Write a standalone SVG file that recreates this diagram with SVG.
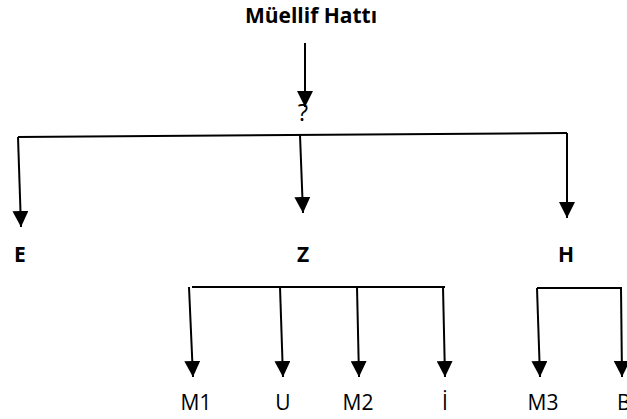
<svg xmlns="http://www.w3.org/2000/svg" width="627" height="419" viewBox="0 0 627 419">
<style>
.b{font-family:"Open Sans","Liberation Sans",sans-serif;font-weight:bold;font-size:21px;fill:#000;text-anchor:middle}
.r{font-family:"Open Sans","Liberation Sans",sans-serif;font-size:21px;fill:#000;text-anchor:middle}
.ln{stroke:#000;stroke-width:2;fill:none}
.ar{stroke:#000;stroke-width:2;fill:none;marker-end:url(#ah)}
</style>
<defs>
<marker id="ah" markerUnits="userSpaceOnUse" markerWidth="16" markerHeight="16" refX="16" refY="8" orient="auto" viewBox="0 0 16 16">
<path d="M0,0 L16,8 L0,16 z" fill="#000"/>
</marker>
</defs>
<g id="title"><text class="b" x="311" y="23">Müellif Hattı</text></g>
<g id="q"><text class="r" x="303" y="121" style="font-size:24px">?</text></g>
<g id="E"><text class="b" x="20" y="262">E</text></g>
<g id="Z"><text class="b" x="303" y="262">Z</text></g>
<g id="H"><text class="b" x="566" y="262">H</text></g>
<g id="M1"><text class="r" x="196" y="410">M1</text></g>
<g id="U"><text class="r" x="283" y="410">U</text></g>
<g id="M2"><text class="r" x="358" y="410">M2</text></g>
<g id="I"><text class="r" x="445" y="410">İ</text></g>
<g id="M3"><text class="r" x="543" y="410">M3</text></g>
<g id="B"><text class="r" x="617" y="410" style="text-anchor:start">B</text></g>
<g id="connectors">
<line class="ar" x1="305" y1="43" x2="305" y2="107"/>
<line class="ln" x1="18" y1="137" x2="567" y2="133"/>
<line class="ar" x1="18" y1="137" x2="21" y2="227"/>
<line class="ar" x1="300" y1="135" x2="303" y2="213"/>
<line class="ar" x1="567" y1="133" x2="567" y2="218"/>
<line class="ln" x1="192" y1="287" x2="445" y2="287"/>
<line class="ar" x1="189" y1="287" x2="193" y2="377"/>
<line class="ar" x1="280" y1="287" x2="283" y2="377"/>
<line class="ar" x1="357" y1="287" x2="359" y2="377"/>
<line class="ar" x1="443" y1="287" x2="445" y2="377"/>
<line class="ln" x1="537" y1="288" x2="622" y2="288"/>
<line class="ar" x1="537" y1="288" x2="540" y2="377"/>
<line class="ar" x1="621" y1="288" x2="622" y2="377"/>
</g>
</svg>
